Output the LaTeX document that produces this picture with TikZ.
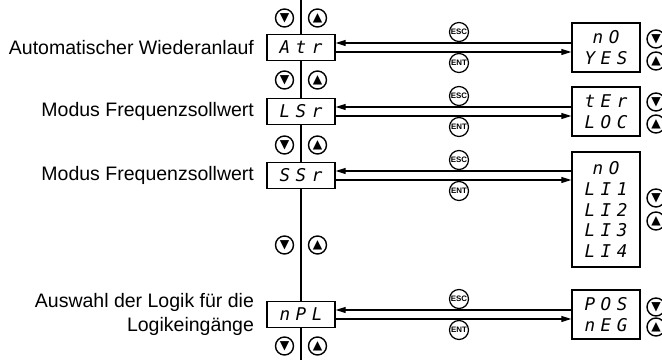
\documentclass[tikz,border=0pt]{standalone}
\usepackage{fontspec}
\setmainfont{Liberation Sans}
\newfontfamily\lcdfont[LetterSpace=32]{DejaVu Sans Mono}
\newfontfamily\symfont{DejaVu Sans}
\usetikzlibrary{arrows.meta,positioning}

\begin{document}
\begin{tikzpicture}[>={Triangle[length=2mm,width=1.2mm]},
  par/.style={draw,line width=0.8pt,minimum width=1.36cm,minimum height=0.52cm,inner sep=0pt,font=\lcdfont\itshape\fontsize{10}{10}\selectfont},
  val/.style={draw,line width=0.8pt,minimum width=1.36cm,inner sep=0pt,align=center,font=\lcdfont\itshape\fontsize{10}{11.9}\selectfont},
  lbl/.style={inner sep=0pt,align=right,font=\fontsize{11.1}{13.7}\selectfont},
  btn/.style={circle,draw,line width=0.8pt,minimum size=0.36cm,inner sep=0pt,font=\symfont\fontsize{7}{7}\selectfont},
  key/.style={circle,draw,line width=0.7pt,minimum size=0.38cm,inner sep=0pt,font=\fontsize{4.5}{4.5}\selectfont\bfseries},
  link/.style={line width=0.6pt}]
  \useasboundingbox (0,0) rectangle (13.24,7.2);
  \node[par] (par1) at (6.02,6.25) {Atr};
  \node[par] (par2) at (6.02,4.97) {LSr};
  \node[par] (par3) at (6.02,3.69) {SSr};
  \node[par] (par4) at (6.02,0.91) {nPL};
  \node[lbl,left=0.24cm of par1] (lbl1) {Automatischer Wiederanlauf};
  \node[lbl,left=0.24cm of par2] (lbl2) {Modus Frequenzsollwert};
  \node[lbl,left=0.24cm of par3] (lbl3) {Modus Frequenzsollwert};
  \node[lbl,left=0.24cm of par4] (lbl4) {Auswahl der Logik für die\\Logikeingänge};
  \node[val,minimum height=0.98cm] (val1) at (12.12,6.25) {nO\\YES};
  \node[val,minimum height=0.98cm] (val2) at (12.12,4.97) {tEr\\LOC};
  \node[val,minimum height=2.3cm] (val3) at (12.12,3.01) {nO\\LI1\\LI2\\LI3\\LI4};
  \node[val,minimum height=0.98cm] (val4) at (12.12,0.91) {POS\\nEG};
  \node[btn] (dn0) at (5.69,6.84) {▼};
  \node[btn] (up0) at (6.35,6.84) {▲};
  \node[btn] (dn1) at (5.69,5.60) {▼};
  \node[btn] (up1) at (6.35,5.60) {▲};
  \node[btn] (dn2) at (5.69,4.30) {▼};
  \node[btn] (up2) at (6.35,4.30) {▲};
  \node[btn] (dn3) at (5.69,2.30) {▼};
  \node[btn] (up3) at (6.35,2.30) {▲};
  \node[btn] (dn4) at (5.69,0.28) {▼};
  \node[btn] (up4) at (6.35,0.28) {▲};
  \node[btn] (vdn1) at (13.12,6.42) {▼};
  \node[btn] (vup1) at (13.12,5.98) {▲};
  \node[btn] (vdn2) at (13.12,5.16) {▼};
  \node[btn] (vup2) at (13.12,4.72) {▲};
  \node[btn] (vdn3) at (13.12,3.24) {▼};
  \node[btn] (vup3) at (13.12,2.78) {▲};
  \node[btn] (vdn4) at (13.12,1.06) {▼};
  \node[btn] (vup4) at (13.12,0.66) {▲};
  \node[key] (esc1) at (9.18,6.56) {ESC};
  \node[key] (ent1) at (9.18,5.94) {ENT};
  \node[key] (esc2) at (9.18,5.28) {ESC};
  \node[key] (ent2) at (9.18,4.66) {ENT};
  \node[key] (esc3) at (9.18,4.00) {ESC};
  \node[key] (ent3) at (9.18,3.38) {ENT};
  \node[key] (esc4) at (9.18,1.22) {ESC};
  \node[key] (ent4) at (9.18,0.60) {ENT};
  \coordinate (top) at (6.02,7.2);
  \coordinate (bot) at (6.02,0);
  \coordinate (in3) at (val3.west |- par3.east);
  \draw[link] (top) -- (par1) -- (par2) -- (par3) -- (par4) -- (bot);
  \draw[link,->] ([yshift=0.09cm]val1.west) -- ([yshift=0.09cm]par1.east);
  \draw[link,->] ([yshift=-0.09cm]par1.east) -- ([yshift=-0.09cm]val1.west);
  \draw[link,->] ([yshift=0.09cm]val2.west) -- ([yshift=0.09cm]par2.east);
  \draw[link,->] ([yshift=-0.09cm]par2.east) -- ([yshift=-0.09cm]val2.west);
  \draw[link,->] ([yshift=0.09cm]in3) -- ([yshift=0.09cm]par3.east);
  \draw[link,->] ([yshift=-0.09cm]par3.east) -- ([yshift=-0.09cm]in3);
  \draw[link,->] ([yshift=0.09cm]val4.west) -- ([yshift=0.09cm]par4.east);
  \draw[link,->] ([yshift=-0.09cm]par4.east) -- ([yshift=-0.09cm]val4.west);
\end{tikzpicture}
\end{document}
